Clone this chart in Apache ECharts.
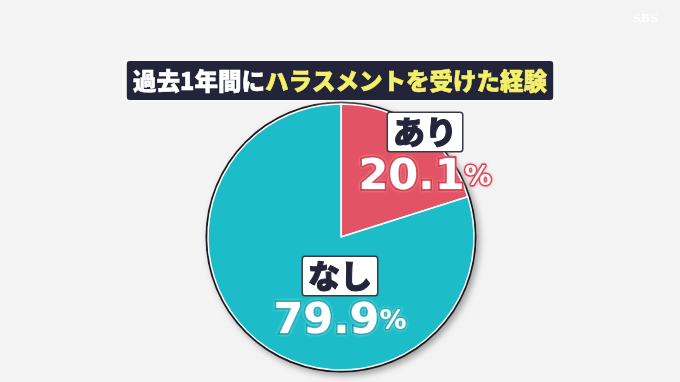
<!DOCTYPE html>
<html><head><meta charset="utf-8">
<script src="https://cdn.jsdelivr.net/npm/echarts@6/dist/echarts.min.js"></script>
<style>html,body{margin:0;padding:0;background:#f3f3f3;}#c{width:680px;height:382px;}</style>
</head><body><div id="c"></div>
<script>
var categories = ['あり', 'なし'];
var values = [20.1, 79.9];
var titleWhite = '過去1年間に';
var titleYellow = 'ハラスメントを受けた経験';

var sliceColors = ['#e25465', '#1cbdc8'];
var valStroke = ['#c8303f', '#149ba6'];
var valGlow = ['#f59aa4', '#7fdde4'];

var chart = echarts.init(document.getElementById('c'));
var cx = 341, cy = 237, R = 133;
chart.setOption({
  backgroundColor: '#f3f3f3',
  animation: false,
  title: {
    text: '{w|' + titleWhite + '}{y|' + titleYellow + '}',
    left: 'center', top: 61,
    backgroundColor: '#23233a',
    padding: [7, 6, 6, 6],
    borderRadius: 3,
    shadowColor: 'rgba(255,255,255,1)', shadowBlur: 6,
    textStyle: {
      lineHeight: 26,
      rich: {
        w: {color: '#ffffff', fontSize: 23.5, fontWeight: 900, fontFamily: 'Noto Sans CJK JP', lineHeight: 26,
          textBorderColor: '#ffffff', textBorderWidth: 0.6},
        y: {color: '#f4f06a', fontSize: 23.5, fontWeight: 900, fontFamily: 'Noto Sans CJK JP', lineHeight: 26,
          textBorderColor: '#f4f06a', textBorderWidth: 0.6}
      }
    }
  },
  graphic: [{
    type: 'text', right: 22, top: 14,
    style: {text: 'SBS', fill: 'rgba(255,255,255,0.95)', font: 'bold 11px "DejaVu Serif"'}
  }],
  series: [{
    type: 'pie', silent: true, center: [cx, cy], radius: R + 2.5,
    label: {show: false}, labelLine: {show: false},
    itemStyle: {color: '#1a1a22', shadowColor: 'rgba(0,0,0,0.35)', shadowBlur: 6, shadowOffsetX: 3, shadowOffsetY: 3},
    data: [{value: 1, name: ''}], z: 1
  }, {
    type: 'pie', center: [cx, cy], radius: R, startAngle: 90, clockwise: true,
    z: 2,
    itemStyle: {borderColor: '#ffffff', borderWidth: 1.5},
    labelLine: {show: false},
    label: {
      show: true, position: 'inside',
      formatter: function (p) {
        var s = p.dataIndex === 0 ? 'r' : 't';
        return '{name|' + p.name + '}\n{v' + s + '|' + p.value.toFixed(1) + '}{p' + s + '|%}';
      },
      rich: {
        name: {color: '#24243a', fontSize: 32, fontWeight: 900, fontFamily: 'Noto Sans CJK JP',
          textBorderColor: '#24243a', textBorderWidth: 1,
          backgroundColor: '#ffffff', borderColor: '#3a3a46', borderWidth: 1.5, borderRadius: 2,
          padding: [3, 5, 3, 5], lineHeight: 36, align: 'center'},
        vr: {color: '#ffffff', fontSize: 43, fontWeight: 'bold', fontFamily: 'DejaVu Sans',
          textBorderColor: valStroke[0], textBorderWidth: 3.5, textShadowColor: valGlow[0], textShadowBlur: 3, lineHeight: 56},
        pr: {color: '#ffffff', fontSize: 27, fontWeight: 'bold', fontFamily: 'DejaVu Sans',
          textBorderColor: valStroke[0], textBorderWidth: 3, textShadowColor: valGlow[0], textShadowBlur: 3, lineHeight: 50},
        vt: {color: '#ffffff', fontSize: 43, fontWeight: 'bold', fontFamily: 'DejaVu Sans',
          textBorderColor: valStroke[1], textBorderWidth: 3.5, textShadowColor: valGlow[1], textShadowBlur: 3, lineHeight: 56},
        pt: {color: '#ffffff', fontSize: 27, fontWeight: 'bold', fontFamily: 'DejaVu Sans',
          textBorderColor: valStroke[1], textBorderWidth: 3, textShadowColor: valGlow[1], textShadowBlur: 3, lineHeight: 50}
      }
    },
    labelLayout: function (p) {
      return p.dataIndex === 0 ? {dx: 43, dy: -21} : {dx: 40, dy: 11};
    },
    data: categories.map(function (c, i) {
      return {name: c, value: values[i], itemStyle: {color: sliceColors[i]}};
    })
  }]
});
</script></body></html>
